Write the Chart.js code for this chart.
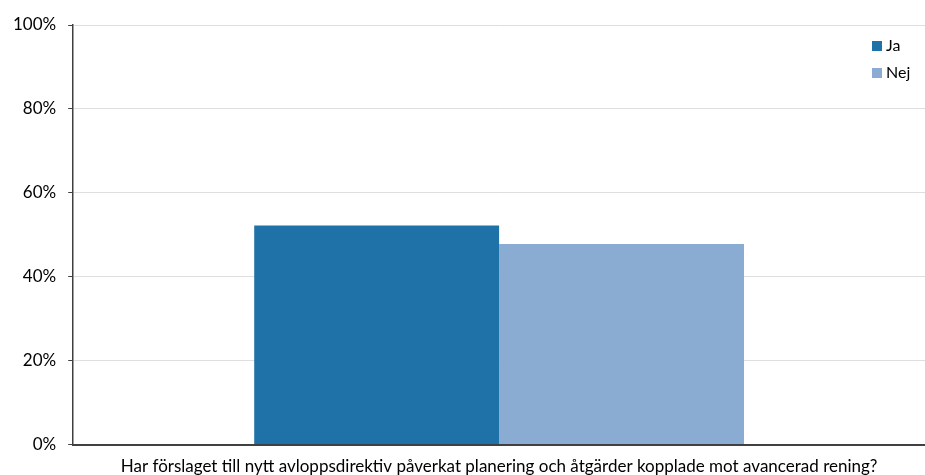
<!DOCTYPE html>
<html>
<head>
<meta charset="utf-8">
<script src="https://cdn.jsdelivr.net/npm/chart.js@4/dist/chart.umd.min.js"></script>
<style>
  html, body { margin: 0; padding: 0; background: #fff; }
  #wrap { width: 925px; height: 475px; }
</style>
</head>
<body>
<div id="wrap"><canvas id="c" width="925" height="475"></canvas></div>
<script>
// Survey question and answer shares (percent)
const categories = ['Har förslaget till nytt avloppsdirektiv påverkat planering och åtgärder kopplade mot avancerad rening?'];
const seriesNames = ['Ja', 'Nej'];
const jaValues = [52.2];
const nejValues = [47.8];
const seriesColors = ['#1f72a8', '#8bacd2'];
const yTicks = [0, 20, 40, 60, 80, 100];

const FONT = 'Lato, "Open Sans", sans-serif';

// Legend drawn in the upper right corner of the plot area
const cornerLegend = {
  id: 'cornerLegend',
  afterDraw(chart) {
    const ctx = chart.ctx;
    const area = chart.chartArea;
    ctx.save();
    ctx.font = '16px ' + FONT;
    ctx.textBaseline = 'middle';
    chart.data.datasets.forEach((ds, i) => {
      const x = area.right - 53;
      const y = area.top + 21 + i * 27;
      ctx.fillStyle = ds.backgroundColor;
      ctx.fillRect(x, y - 5, 10, 10);
      ctx.fillStyle = '#000';
      ctx.fillText(ds.label, x + 14, y);
    });
    ctx.restore();
  }
};

new Chart(document.getElementById('c'), {
  type: 'bar',
  data: {
    labels: categories,
    datasets: [
      { label: seriesNames[0], data: jaValues, backgroundColor: seriesColors[0] },
      { label: seriesNames[1], data: nejValues, backgroundColor: seriesColors[1] }
    ]
  },
  options: {
    responsive: false,
    animation: false,
    layout: { padding: { left: 1, right: 0, top: 25, bottom: -6 } },
    datasets: { bar: { barPercentage: 1, categoryPercentage: 0.575 } },
    plugins: { legend: { display: false }, tooltip: { enabled: false } },
    scales: {
      x: {
        grid: { display: false },
        border: { display: true, color: '#404040', width: 2 },
        ticks: { color: '#000', font: { family: FONT, size: 17 }, padding: 4, maxRotation: 0 }
      },
      y: {
        min: 0, max: 100,
        afterBuildTicks(axis) { axis.ticks = yTicks.map(v => ({ value: v })); },
        grid: { color: '#dedede', tickColor: '#404040', tickLength: 5, lineWidth: 1 },
        border: { display: true, color: '#404040', width: 1.5 },
        ticks: { color: '#000', font: { family: FONT, size: 17 }, padding: 12, callback: v => v + '%' }
      }
    }
  },
  plugins: [cornerLegend]
});
</script>
</body>
</html>
